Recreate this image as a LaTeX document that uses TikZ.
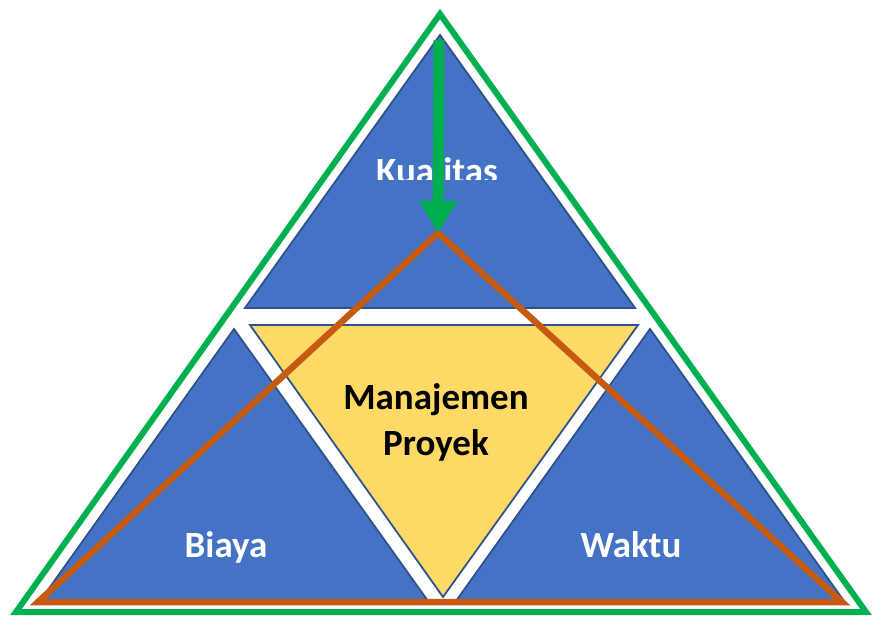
\documentclass[tikz,border=0pt]{standalone}
\usepackage{fontspec}
\setmainfont{Carlito}
\usetikzlibrary{arrows.meta}
\definecolor{tblue}{HTML}{4472C4}
\definecolor{tedge}{HTML}{2F528F}
\definecolor{tyellow}{HTML}{FFD966}
\definecolor{tgreen}{HTML}{00B050}
\definecolor{torange}{HTML}{C55A11}
\begin{document}
\begin{tikzpicture}[x=1pt,y=-1pt,
  partbox/.style={fill=tblue, draw=tedge, line width=1.8pt, line join=miter},
  corebox/.style={fill=tyellow, draw=tedge, line width=1.8pt, line join=miter},
  framebox/.style={draw=tgreen, line width=6pt, line join=miter},
  tradebox/.style={draw=torange, line width=6.5pt, line join=miter},
  lbl/.style={font=\bfseries\fontsize{37}{46}\selectfont, inner sep=0pt, align=center},
  flow/.style={draw=tgreen, line width=11pt, -{Triangle[width=36pt,length=32pt]}}]
\useasboundingbox (0,0) rectangle (877,617);
% vertices
\coordinate (gA) at (440,14);
\coordinate (gL) at (16,612);
\coordinate (gR) at (866,612);
\coordinate (kA) at (440,35);
\coordinate (kL) at (245,308);
\coordinate (kR) at (635,308);
\coordinate (mL) at (250,325);
\coordinate (mR) at (638,325);
\coordinate (mB) at (443,597);
\coordinate (bA) at (234,329);
\coordinate (bL) at (40,601);
\coordinate (bR) at (428,601);
\coordinate (wA) at (650,329);
\coordinate (wL) at (456,601);
\coordinate (wR) at (844,601);
\coordinate (oA) at (438,233);
\coordinate (oL) at (38,602);
\coordinate (oR) at (842,602);
\coordinate (arrowtop) at (439,40);
% shapes
\draw[framebox] (gA) -- (gL) -- (gR) -- cycle;
\filldraw[partbox] (kA) -- (kL) -- (kR) -- cycle;
\filldraw[partbox] (bA) -- (bL) -- (bR) -- cycle;
\filldraw[partbox] (wA) -- (wL) -- (wR) -- cycle;
\filldraw[corebox] (mL) -- (mR) -- (mB) -- cycle;
% labels
\begin{scope}
  \clip (0,0) rectangle (877,180);
  \node[lbl, text=white, anchor=base] (kual) at (437,184) {Kualitas};
\end{scope}
\node[lbl, text=white, anchor=base] (biaya) at (226,557) {Biaya};
\node[lbl, text=white, anchor=base] (waktu) at (631,557) {Waktu};
\node[lbl, text=black] (pm) at (436,422) {Manajemen\\Proyek};
% trade-off triangle
\draw[tradebox] (oA) -- (oL) -- (oR) -- cycle;
% arrow
\draw[flow] (arrowtop) -- (oA);
\end{tikzpicture}
\end{document}
